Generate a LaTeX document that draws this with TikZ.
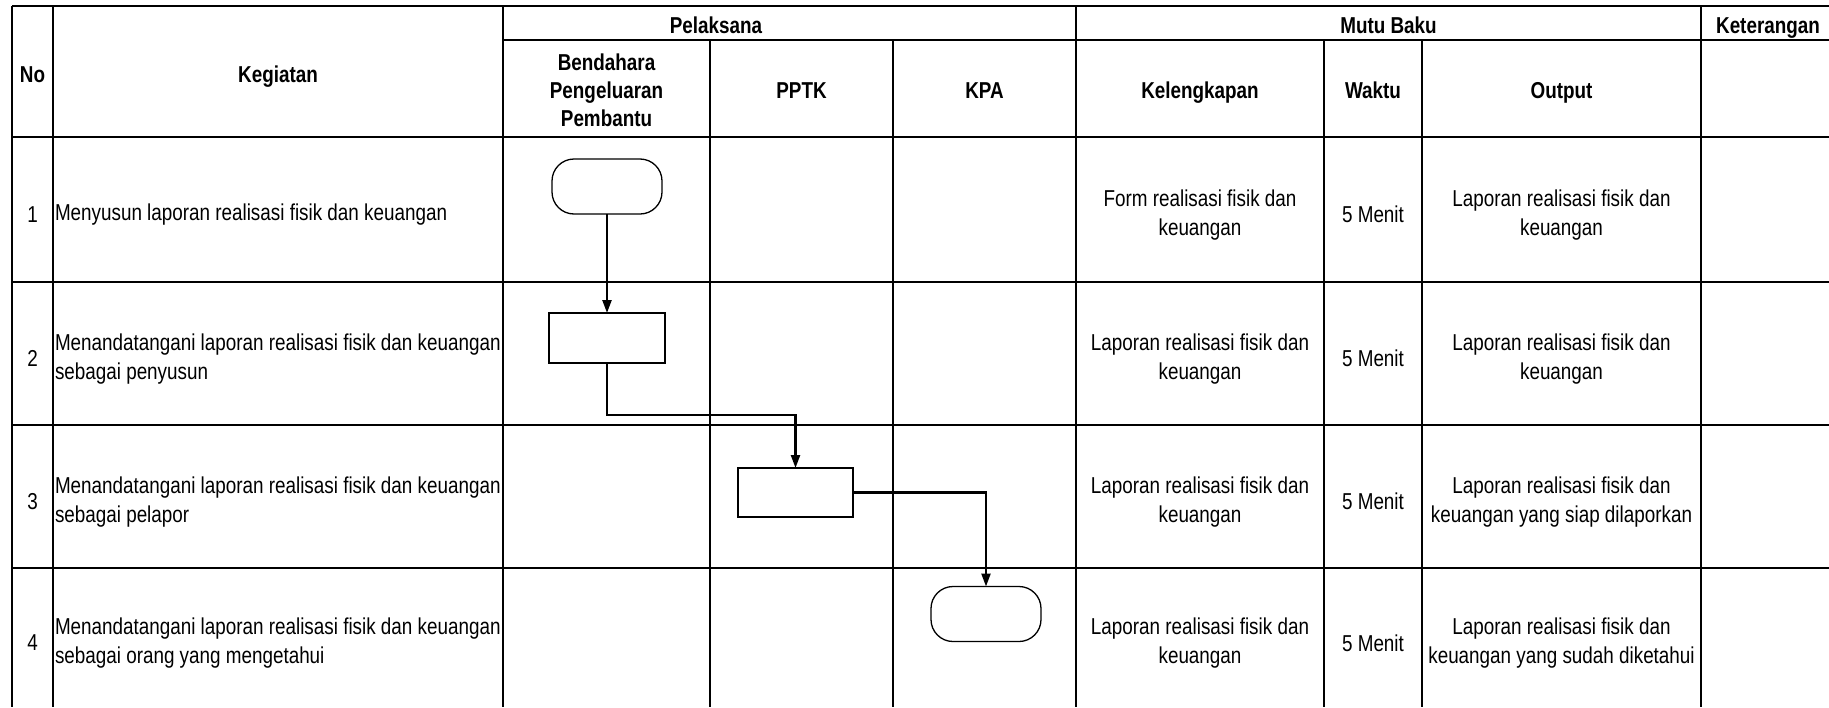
\documentclass[tikz,border=0pt]{standalone}
\usepackage{fontspec}
\setmainfont{Liberation Sans}[FakeStretch=0.82]
\usetikzlibrary{arrows.meta}
\begin{document}
\begin{tikzpicture}[x=1pt,y=-1pt,
  every node/.style={font=\fontsize{23}{29}\selectfont, inner sep=0pt, outer sep=0pt},
  hd/.style={font=\fontsize{23}{28}\selectfont\bfseries, align=center},
  cell/.style={align=center},
  lcell/.style={align=left, anchor=west},
  gridline/.style={line width=1.8pt},
  borderline/.style={line width=2.8pt},
  term/.style={draw, rounded corners=22pt, minimum width=110pt, minimum height=55pt, line width=1.3pt},
  proc/.style={draw, minimum width=116pt, minimum height=50pt, line width=1.3pt},
  flow/.style={line width=2.3pt, -{Triangle[length=13pt,width=9pt]}}
]
\useasboundingbox (0,0) rectangle (1829,707);
\fill[white] (0,0) rectangle (1829,707);

% horizontal lines
\draw[borderline] (12,6) -- (1829,6);
\draw[gridline] (503,40) -- (1829,40);
\draw[borderline] (12,137) -- (1829,137);
\draw[gridline] (12,282) -- (1829,282);
\draw[gridline] (12,425) -- (1829,425);
\draw[gridline] (12,568) -- (1829,568);

% vertical lines
\draw[borderline] (12,6) -- (12,707);
\draw[gridline] (53,6) -- (53,707);
\draw[gridline] (503,6) -- (503,707);
\draw[gridline] (710,40) -- (710,707);
\draw[gridline] (893,40) -- (893,707);
\draw[gridline] (1076,6) -- (1076,707);
\draw[gridline] (1324,40) -- (1324,707);
\draw[gridline] (1422,40) -- (1422,707);
\draw[gridline] (1701,6) -- (1701,707);

% header
\node[hd, anchor=base] (hno) at (32.5,82) {No};
\node[hd, anchor=base] (hkeg) at (278,82) {Kegiatan};
\node[hd, anchor=base] (hpel) at (716,33) {Pelaksana};
\node[hd, anchor=base] (hmutu) at (1388.5,33) {Mutu Baku};
\node[hd, anchor=base] (hket) at (1768,33) {Keterangan};
\node[hd] (hbpp) at (606.5,90) {Bendahara\\Pengeluaran\\Pembantu};
\node[hd, anchor=base] (hpptk) at (801.5,98) {PPTK};
\node[hd, anchor=base] (hkpa) at (984.5,98) {KPA};
\node[hd, anchor=base] (hkel) at (1200,98) {Kelengkapan};
\node[hd, anchor=base] (hwaktu) at (1373,98) {Waktu};
\node[hd, anchor=base] (hout) at (1561.5,98) {Output};

% row 1
\node (n1) at (32.5,214.5) {1};
\node[lcell] (k1) at (55,214.5) {Menyusun laporan realisasi fisik dan keuangan};
\node[cell] (kl1) at (1200,215.5) {Form realisasi fisik dan\\keuangan};
\node[cell] (w1) at (1373,214.5) {5 Menit};
\node[cell] (o1) at (1561.5,215.5) {Laporan realisasi fisik dan\\keuangan};

% row 2
\node (n2) at (32.5,358.5) {2};
\node[lcell] (k2) at (55,359.5) {Menandatangani laporan realisasi fisik dan keuangan\\sebagai penyusun};
\node[cell] (kl2) at (1200,359.5) {Laporan realisasi fisik dan\\keuangan};
\node[cell] (w2) at (1373,358.5) {5 Menit};
\node[cell] (o2) at (1561.5,359.5) {Laporan realisasi fisik dan\\keuangan};

% row 3
\node (n3) at (32.5,501.5) {3};
\node[lcell] (k3) at (55,502.5) {Menandatangani laporan realisasi fisik dan keuangan\\sebagai pelapor};
\node[cell] (kl3) at (1200,502.5) {Laporan realisasi fisik dan\\keuangan};
\node[cell] (w3) at (1373,501.5) {5 Menit};
\node[cell] (o3) at (1561.5,502.5) {Laporan realisasi fisik dan\\keuangan yang siap dilaporkan};

% row 4
\node (n4) at (32.5,643) {4};
\node[lcell] (k4) at (55,643.5) {Menandatangani laporan realisasi fisik dan keuangan\\sebagai orang yang mengetahui};
\node[cell] (kl4) at (1200,643.5) {Laporan realisasi fisik dan\\keuangan};
\node[cell] (w4) at (1373,643) {5 Menit};
\node[cell] (o4) at (1561.5,643.5) {Laporan realisasi fisik dan\\keuangan yang sudah diketahui};

% flow shapes
\node[term] (t1) at (607,186.5) {};
\node[proc] (r2) at (607,338) {};
\node[proc, minimum width=115pt, minimum height=49pt] (r3) at (795.5,492.5) {};
\node[term] (t4) at (986,614) {};

% connectors
\draw[flow] (t1.south) -- (r2.north);
\draw[flow] (r2.south) -- ++(0,52) -| (r3.north);
\draw[flow] (r3.east) -| (t4.north);
\end{tikzpicture}
\end{document}
